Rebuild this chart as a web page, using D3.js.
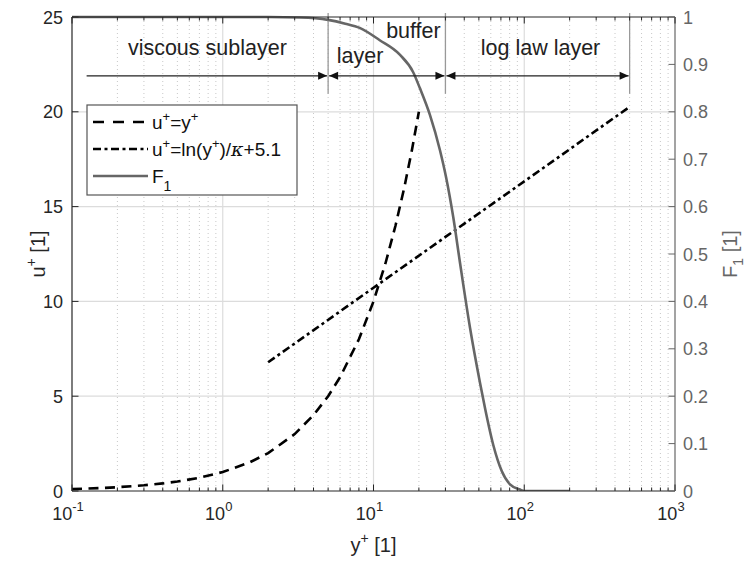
<!DOCTYPE html>
<html>
<head>
<meta charset="utf-8">
<script src="https://cdn.jsdelivr.net/npm/d3@7"></script>
<style>
  body { margin: 0; background: #fff; }
  text { font-family: "Liberation Sans", Arial, Helvetica, sans-serif; }
</style>
</head>
<body>
<svg width="747" height="563"></svg>
<script>
// ---- data ----
// viscous sublayer, u+ = y+
var viscY = [0.1, 0.15, 0.2, 0.3, 0.4, 0.5, 0.7, 1, 1.5, 2, 3, 4, 5, 6, 8, 10, 12, 14, 16, 18, 20];
var viscU = [0.1, 0.15, 0.2, 0.3, 0.4, 0.5, 0.7, 1, 1.5, 2, 3, 4, 5, 6, 8, 10, 12, 14, 16, 18, 20];
// log law, u+ = ln(y+)/kappa + 5.1
var logY = [2, 10, 30, 100, 500];
var logU = [6.79, 10.72, 13.4, 16.33, 20.26];
// blending function F1 (right axis)
var f1Y = [0.1, 1, 2, 3.25, 5, 6.5, 8.1, 11, 15, 18.3, 20.3, 23.7, 27.6, 30.3, 33.8, 37.5, 43.7, 50.9, 54.9, 62.3, 70.9, 80.4, 93.7, 100, 200];
var f1V = [1, 1, 1, 0.999, 0.994, 0.986, 0.977, 0.951, 0.92, 0.884, 0.85, 0.793, 0.719, 0.662, 0.578, 0.481, 0.344, 0.228, 0.175, 0.097, 0.042, 0.014, 0.003, 0, 0];
// region boundaries (y+)
var bounds = [5, 30, 500];
var arrowStart = 0.125;
var uTicks = [0, 5, 10, 15, 20, 25];
var fTicks = [0, 0.1, 0.2, 0.3, 0.4, 0.5, 0.6, 0.7, 0.8, 0.9, 1];
var xDecades = [-1, 0, 1, 2, 3];

var svg = d3.select('svg');
var m = {t: 17, l: 72};
var w = 603, h = 474;
var black = '#262626', gray = '#666666';

var x = d3.scaleLog().domain([0.1, 1000]).range([m.l, m.l + w]);
var y = d3.scaleLinear().domain([0, 25]).range([m.t + h, m.t]);
var y2 = d3.scaleLinear().domain([0, 1]).range([m.t + h, m.t]);

// minor tick values
var minors = [];
xDecades.slice(0, -1).forEach(function(p) {
  for (var k = 2; k <= 9; k++) minors.push(k * Math.pow(10, p));
});
var majors = xDecades.map(function(p) { return Math.pow(10, p); });

// grid
var grid = svg.append('g');
grid.selectAll('.mg').data(minors).enter().append('line')
  .attr('x1', d => x(d)).attr('x2', d => x(d))
  .attr('y1', m.t).attr('y2', m.t + h)
  .style('stroke', '#c8c8c8').style('stroke-width', 1).style('stroke-dasharray', '1,3');
grid.selectAll('.Mg').data(majors.slice(1, -1)).enter().append('line')
  .attr('x1', d => x(d)).attr('x2', d => x(d))
  .attr('y1', m.t).attr('y2', m.t + h)
  .style('stroke', '#dcdcdc').style('stroke-width', 1.2);
grid.selectAll('.yg').data(uTicks.slice(1, -1)).enter().append('line')
  .attr('x1', m.l).attr('x2', m.l + w)
  .attr('y1', d => y(d)).attr('y2', d => y(d))
  .style('stroke', '#dcdcdc').style('stroke-width', 1.2);

svg.append('clipPath').attr('id', 'clip').append('rect')
  .attr('x', m.l).attr('y', m.t - 3).attr('width', w).attr('height', h + 3);

var plot = svg.append('g').attr('clip-path', 'url(#clip)');

var lineU = d3.line().x(d => x(d[0])).y(d => y(d[1]));
var lineF = d3.line().curve(d3.curveMonotoneX).x(d => x(d[0])).y(d => y2(d[1]));

plot.append('path')
  .attr('d', lineU(d3.zip(viscY, viscU)))
  .style('fill', 'none').style('stroke', '#000').style('stroke-width', 2.6)
  .style('stroke-dasharray', '10,6.5');
plot.append('path')
  .attr('d', lineU(d3.zip(logY, logU)))
  .style('fill', 'none').style('stroke', '#000').style('stroke-width', 2.6)
  .style('stroke-dasharray', '8,3.5,3,3.5');
plot.append('path')
  .attr('d', lineF(d3.zip(f1Y, f1V)))
  .style('fill', 'none').style('stroke', gray).style('stroke-width', 2.6);

// region boundaries and arrows
var ann = svg.append('g');
ann.selectAll('.bd').data(bounds).enter().append('line')
  .attr('x1', d => x(d)).attr('x2', d => x(d))
  .attr('y1', m.t - 4).attr('y2', y(20.95))
  .style('stroke', '#999').style('stroke-width', 1.3);

var ay = y(21.9);
var segs = [[arrowStart, bounds[0], false], [bounds[0], bounds[1], true], [bounds[1], bounds[2], true]];
function head(px, dir) {
  // dir = +1 pointing right, -1 pointing left
  var L = 9, H = 4;
  return 'M' + px + ',' + ay + 'L' + (px - dir * L) + ',' + (ay - H) + 'L' + (px - dir * L) + ',' + (ay + H) + 'Z';
}
segs.forEach(function(s) {
  var x0 = x(s[0]) + (s[2] ? 1 : 0), x1 = x(s[1]) - 1;
  ann.append('line').attr('x1', x0).attr('x2', x1).attr('y1', ay).attr('y2', ay)
    .style('stroke', '#222').style('stroke-width', 1.2);
  ann.append('path').attr('d', head(x1, 1)).style('fill', '#111');
  if (s[2]) ann.append('path').attr('d', head(x0, -1)).style('fill', '#111');
});

var labels = [
  {t: 'viscous sublayer', x: (x(arrowStart) + x(bounds[0])) / 2, y: 55},
  {t: 'layer', x: x(bounds[0]) + 32, y: 63},
  {t: 'buffer', x: x(bounds[1]) - 32, y: 38},
  {t: 'log law layer', x: (x(bounds[1]) + x(bounds[2])) / 2 + 3, y: 55}
];
ann.selectAll('.lb').data(labels).enter().append('text')
  .attr('x', d => d.x).attr('y', d => d.y)
  .attr('text-anchor', 'middle')
  .style('font-size', '21.5px').style('fill', '#222')
  .text(d => d.t);

// axes box
var ax = svg.append('g');
ax.append('line').attr('x1', m.l).attr('x2', m.l + w).attr('y1', m.t + h).attr('y2', m.t + h)
  .style('stroke', black).style('stroke-width', 1.2);
ax.append('line').attr('x1', m.l).attr('x2', m.l + w).attr('y1', m.t).attr('y2', m.t)
  .style('stroke', black).style('stroke-width', 1.2);
ax.append('line').attr('x1', m.l).attr('x2', m.l).attr('y1', m.t).attr('y2', m.t + h)
  .style('stroke', black).style('stroke-width', 1.2);
ax.append('line').attr('x1', m.l + w).attr('x2', m.l + w).attr('y1', m.t).attr('y2', m.t + h)
  .style('stroke', gray).style('stroke-width', 1.2);

// x ticks (top and bottom, inward)
[[m.t + h, -1], [m.t, 1]].forEach(function(e) {
  ax.selectAll(null).data(minors).enter().append('line')
    .attr('x1', d => x(d)).attr('x2', d => x(d))
    .attr('y1', e[0]).attr('y2', d => e[0] + e[1] * 3.5)
    .style('stroke', black).style('stroke-width', 1);
  ax.selectAll(null).data(majors).enter().append('line')
    .attr('x1', d => x(d)).attr('x2', d => x(d))
    .attr('y1', e[0]).attr('y2', d => e[0] + e[1] * 6.5)
    .style('stroke', black).style('stroke-width', 1);
});
var xl = ax.selectAll('.xl').data(xDecades).enter().append('text')
  .attr('x', d => x(Math.pow(10, d)) - 4).attr('y', m.t + h + 29)
  .attr('text-anchor', 'middle')
  .style('font-size', '18px').style('fill', black);
xl.append('tspan').text('10');
xl.append('tspan').attr('dy', -9).style('font-size', '13px').text(d => String(d));

// left y ticks
ax.selectAll('.yt').data(uTicks).enter().append('line')
  .attr('x1', m.l).attr('x2', m.l + 6.5)
  .attr('y1', d => y(d)).attr('y2', d => y(d))
  .style('stroke', black).style('stroke-width', 1);
ax.selectAll('.yl').data(uTicks).enter().append('text')
  .attr('x', m.l - 9).attr('y', d => y(d) + 6.5)
  .attr('text-anchor', 'end')
  .style('font-size', '18px').style('fill', black)
  .text(d => d);

// right y ticks
ax.selectAll('.ft').data(fTicks).enter().append('line')
  .attr('x1', m.l + w).attr('x2', m.l + w - 6.5)
  .attr('y1', d => y2(d)).attr('y2', d => y2(d))
  .style('stroke', gray).style('stroke-width', 1);
ax.selectAll('.fl').data(fTicks).enter().append('text')
  .attr('x', m.l + w + 8).attr('y', d => y2(d) + 6.5)
  .style('font-size', '18px').style('fill', gray)
  .text(d => d);

// axis titles
var xt = ax.append('text').attr('x', m.l + w / 2).attr('y', 552)
  .attr('text-anchor', 'middle').style('font-size', '20px').style('fill', black);
xt.append('tspan').text('y');
xt.append('tspan').attr('dy', -9).style('font-size', '14px').text('+');
xt.append('tspan').attr('dy', 9).text(' [1]');

var yt = ax.append('text').attr('transform', 'translate(45,' + (m.t + h / 2) + ') rotate(-90)')
  .attr('text-anchor', 'middle').style('font-size', '20px').style('fill', black);
yt.append('tspan').text('u');
yt.append('tspan').attr('dy', -9).style('font-size', '14px').text('+');
yt.append('tspan').attr('dy', 9).text(' [1]');

var ft = ax.append('text').attr('transform', 'translate(737,' + (m.t + h / 2) + ') rotate(-90)')
  .attr('text-anchor', 'middle').style('font-size', '20px').style('fill', gray);
ft.append('tspan').text('F');
ft.append('tspan').attr('dy', 6).style('font-size', '14px').text('1');
ft.append('tspan').attr('dy', -6).text(' [1]');

// legend
var lg = svg.append('g');
lg.append('rect').attr('x', 87).attr('y', 105).attr('width', 210).attr('height', 90)
  .style('fill', '#fff').style('stroke', '#555').style('stroke-width', 1.2);
var items = [
  {dash: '11,9', color: '#000', y: 122},
  {dash: '8,3.5,3,3.5', color: '#000', y: 149},
  {dash: null, color: gray, y: 176}
];
items.forEach(function(it) {
  lg.append('line').attr('x1', 93).attr('x2', 148).attr('y1', it.y).attr('y2', it.y)
    .style('stroke', it.color).style('stroke-width', 2.6)
    .style('stroke-dasharray', it.dash);
});
var t1 = lg.append('text').attr('x', 152).attr('y', 129).style('font-size', '19px').style('fill', '#111');
t1.append('tspan').text('u');
t1.append('tspan').attr('dy', -8).style('font-size', '13px').text('+');
t1.append('tspan').attr('dy', 8).text('=y');
t1.append('tspan').attr('dy', -8).style('font-size', '13px').text('+');

var t2 = lg.append('text').attr('x', 152).attr('y', 156).style('font-size', '19px').style('fill', '#111');
t2.append('tspan').text('u');
t2.append('tspan').attr('dy', -8).style('font-size', '13px').text('+');
t2.append('tspan').attr('dy', 8).text('=ln(y');
t2.append('tspan').attr('dy', -8).style('font-size', '13px').text('+');
t2.append('tspan').attr('dy', 8).text(')/');
t2.append('tspan').style('font-style', 'italic').style('font-family', 'DejaVu Serif').text('κ');
t2.append('tspan').text('+5.1');

var t3 = lg.append('text').attr('x', 152).attr('y', 183).style('font-size', '19px').style('fill', '#111');
t3.append('tspan').text('F');
t3.append('tspan').attr('dy', 8).style('font-size', '14px').text('1');
</script>
</body>
</html>
